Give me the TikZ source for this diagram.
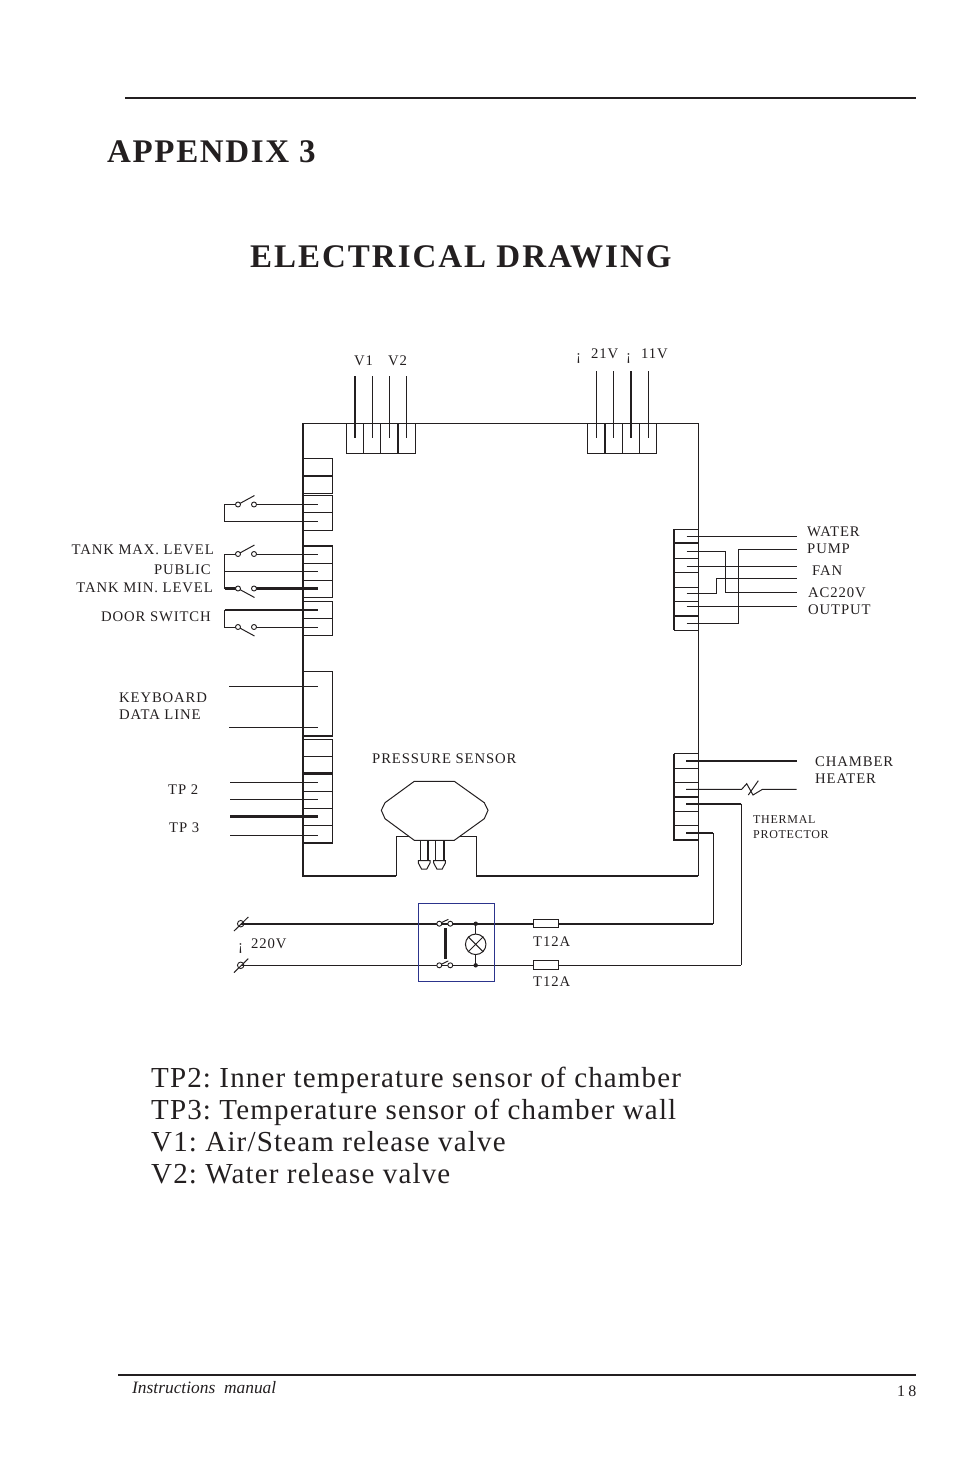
\documentclass[tikz,border=0pt]{standalone}
\usepackage{fontspec}
\setmainfont{Liberation Serif}
\newfontfamily\wideserif[LetterSpace=6]{Liberation Serif}
\newfontfamily\bodyserif[LetterSpace=4]{Liberation Serif}
\newfontfamily\titleserif[LetterSpace=5]{Liberation Serif}
\newfontfamily\pageserif[LetterSpace=20]{Liberation Serif}
\usetikzlibrary{positioning, calc}
\definecolor{boxblue}{RGB}{44,52,140}
\definecolor{inkgray}{RGB}{35,31,32}
\tikzset{
  thin wire/.style={line width=1pt, color=inkgray},
  thick wire/.style={line width=2.1pt, color=inkgray},
  lab/.style={inner sep=0pt, anchor=base west, font=\wideserif\fontsize{14.7}{14.7}\selectfont, color=inkgray},
  labr/.style={lab, anchor=base east},
  body/.style={inner sep=0pt, anchor=base west, font=\bodyserif\fontsize{29}{29}\selectfont, color=inkgray},
  heading/.style={inner sep=0pt, anchor=base west, color=inkgray, font=\titleserif\bfseries\fontsize{33}{33}\selectfont},
  small lab/.style={lab, font=\wideserif\fontsize{12}{12}\selectfont},
  terminal/.style={circle, draw=inkgray, fill=white, line width=.9pt, inner sep=0pt, minimum size=5pt},
}
\begin{document}
\frenchspacing
\begin{tikzpicture}[x=1pt, y=-1pt]
\useasboundingbox (0,0) rectangle (954,1475);
\draw[line width=2pt, color=inkgray] (125,98)--(916,98);
\draw[line width=2pt, color=inkgray] (118,1375)--(916,1375);
\node (title) [heading] at (107,162.5) {APPENDIX 3};
\node (subtitle) [heading, font=\wideserif\bfseries\fontsize{33}{33}\selectfont] at (250,267.5) {ELECTRICAL DRAWING};
\node (manual) [inner sep=0pt, anchor=base west, color=inkgray, font=\itshape\fontsize{17.4}{17.4}\selectfont] at (132,1393) {Instructions\ \ manual};
\node (pageno) [lab, font=\pageserif\fontsize{16}{16}\selectfont] at (897,1396) {18};
\node (tpa) [body] at (151,1087.3) {TP2: Inner temperature sensor of chamber};
\node (tpb) [body] at (151,1119.3) {TP3: Temperature sensor of chamber wall};
\node (va) [body] at (151,1151.3) {V1: Air/Steam release valve};
\node (vb) [body] at (151,1183.3) {V2: Water release valve};
% main board
\draw[thin wire] (303,423)--(698,423)--(698,876);
\draw[thick wire] (303,423)--(303,876)--(396,876);
\draw[thin wire] (396,876)--(396,836)--(476,836)--(476,876);
\draw[thick wire] (476,876)--(698,876);
% top connectors
\draw[thin wire] (346.5,423)--(346.5,453)--(415,453)--(415,423);
\foreach \x in {363.5,380.5} \draw[thin wire] (\x,423)--(\x,453);
\draw[thick wire] (398,423)--(398,453);
\draw[thick wire] (355,376)--(355,438);
\foreach \x in {372,389.5,406.5} \draw[thin wire] (\x,376)--(\x,438);
\draw[thin wire] (587.5,423)--(587.5,453)--(656.5,453)--(656.5,423);
\foreach \x in {622.5,639.5} \draw[thin wire] (\x,423)--(\x,453);
\draw[thick wire] (605,423)--(605,453);
\foreach \x in {596,613,648} \draw[thin wire] (\x,371)--(\x,438);
\draw[thick wire] (631,371)--(631,438);
\node (vone) [lab] at (354,365.5) {V1};
\node (vtwo) [lab] at (388,365.5) {V2};
\node (nega) [lab] at (576,360.5) {¡};
\node (vpa) [lab] at (591,358.5) {21V};
\node (negb) [lab] at (626,360.5) {¡};
\node (vpb) [lab] at (641,358.5) {11V};
% left connectors
\draw[thin wire] (303,458)--(332.5,458)--(332.5,493.5)--(303,493.5);
\draw[thick wire] (303,476)--(332.5,476);
\draw[thin wire] (303,495)--(332.5,495)--(332.5,530)--(303,530) (303,512.5)--(332.5,512.5);
\draw[thin wire] (332.5,546)--(332.5,597)--(303,597) (303,563.5)--(332.5,563.5) (303,580.5)--(332.5,580.5);
\draw[thick wire] (303,546)--(332.5,546);
\draw[thin wire] (303,601.5)--(332.5,601.5)--(332.5,635.5)--(303,635.5) (303,618)--(332.5,618);
\draw[thin wire] (303,671.5)--(332.5,671.5)--(332.5,736);
\draw[thick wire] (303,736)--(332.5,736);
\draw[thin wire] (303,739)--(332.5,739)--(332.5,843) (303,756)--(332.5,756);
\draw[thick wire] (303,773.5)--(332.5,773.5) (303,843)--(332.5,843);
\foreach \y in {791,808,825} \draw[thin wire] (303,\y)--(332.5,\y);
% switches
\draw[thin wire] (254,504.5)--(318,504.5) (238,504.5)--(224.5,504.5)--(224.5,521)--(318,521);
\draw[thin wire] (254,554)--(318,554) (238,554)--(224.5,554)--(224.5,588.5)--(238,588.5) (224.5,571)--(318,571);
\draw[thick wire] (254,588.5)--(318,588.5) (224.5,588.5)--(238,588.5);
\draw[thick wire] (224.5,610)--(318,610);
\draw[thin wire] (224.5,610)--(224.5,627)--(238,627) (254,627)--(318,627);
\foreach \y/\d in {504.5/-9,554/-9,588.5/9,627/9} {
  \draw[thin wire] (238,\y)--(254.5,\y+\d);
  \node [terminal] at (238,\y) {};
  \node [terminal] at (254,\y) {};
}
\node (tankmax) [labr] at (214,554) {TANK MAX. LEVEL};
\node (public) [labr] at (211,574) {PUBLIC};
\node (tankmin) [labr] at (213,592) {TANK MIN. LEVEL};
\node (door) [labr] at (211,621) {DOOR SWITCH};
% keyboard and sensors
\foreach \y in {686,727} \draw[thin wire] (229,\y)--(318,\y);
\foreach \y in {782.5,799.5,835} \draw[thin wire] (230,\y)--(318,\y);
\draw[thick wire] (230,816.5)--(318,816.5);
\node (keyb) [lab] at (119,702) {KEYBOARD};
\node (dataline) [lab] at (119,719) {DATA LINE};
\node (tptwo) [lab] at (168,794) {TP 2};
\node (tpthree) [lab] at (169,832) {TP 3};
% pressure sensor
\node (press) [lab] at (372,763) {PRESSURE SENSOR};
\draw[thin wire, fill=white] (414.3,781.3)--(454.3,781.3)--(484.3,802.7)--(488,810.3)--(484.3,818.7)--(454.3,840.3)--(414.3,840.3)--(385,818.7)--(381.3,810.3)--(385,802.7)--cycle;
\foreach \x in {420.3,435.7} {
  \draw[thin wire] (\x,840.3)--(\x,860.7);
  \draw[thick wire] (\x+8,840.3)--(\x+8,860.7);
  \draw[thin wire] (\x-2,860.7)--(\x+9.7,860.7)--(\x+9.7,863)--(\x+6.5,869)--(\x+1.2,869)--(\x-2,863)--cycle;
}
% right connectors
\draw[thick wire] (674,529.3)--(674,630);
\foreach \y in {529.3,558.3,572.3,587.3,601.7,630} \draw[thin wire] (674,\y)--(698,\y);
\foreach \y in {543.3,616} \draw[thick wire] (674,\y)--(698,\y);
\draw[thin wire] (686.7,536.7)--(796.7,536.7);
\draw[thin wire] (686.7,551)--(725,551)--(725,592.3)--(796.7,592.3);
\draw[thin wire] (686.7,566)--(796.7,566);
\draw[thin wire] (686.7,593.3)--(716,593.3)--(716,578.3)--(796.7,578.3);
\draw[thin wire] (686.7,606.3)--(796.7,606.3);
\draw[thin wire] (686.7,623)--(738,623)--(738,549.3)--(796.7,549.3);
\node (water) [lab] at (807,536.5) {WATER};
\node (pump) [lab] at (807,553.5) {PUMP};
\node (fan) [lab] at (812,575.5) {FAN};
\node (acv) [lab] at (808,597.5) {AC220V};
\node (output) [lab] at (808,614.5) {OUTPUT};
\draw[thick wire] (674,753.7)--(674,839.7)--(698,839.7);
\foreach \y in {753.7,768.3,782.3,811.3,825.7} \draw[thin wire] (674,\y)--(698,\y);
\draw[thick wire] (674,797)--(698,797);
\draw[thick wire] (686,760.7)--(796.7,760.7);
\draw[thin wire] (686,789.3)--(741.7,789.3)--(746.7,783.7)--(753,795)--(762.5,789.3)--(796.7,789.3);
\draw[thin wire] (758.3,780.7)--(748.3,795);
\draw[thick wire] (686,803.7)--(741.3,803.7);
\draw[thin wire] (741.3,803.7)--(741.3,965.3);
\draw[thick wire] (686,833)--(713.3,833);
\draw[thin wire] (713.3,833)--(713.3,923.7);
\node (chamber) [lab] at (815,766.5) {CHAMBER};
\node (heater) [lab] at (815,783.5) {HEATER};
\node (thermal) [small lab] at (753,823) {THERMAL};
\node (protector) [small lab] at (753,838) {PROTECTOR};
% mains
\draw[thick wire] (240.7,923.7)--(713.3,923.7);
\draw[thin wire] (240.7,965.3)--(741.3,965.3);
\foreach \y in {923.7,965.3} {
  \node [terminal, fill=none, minimum size=6.5pt] at (240.7,\y) {};
  \draw[thin wire] (234,\y+7.3)--(248.3,\y-6.7);
}
\node (negc) [lab] at (238,950.5) {¡};
\node (mains) [lab] at (251,948.5) {220V};
\draw[line width=1pt, color=boxblue] (418.7,903.7) rectangle (494.3,981.3);
\draw[line width=3pt, color=inkgray] (445,928)--(445,958.7);
\foreach \y in {923.7,965.3} {
  \draw[thin wire] (439.3,\y)--(448.3,\y-4.4);
  \node [terminal] at (439.3,\y) {};
  \node [terminal] at (450.3,\y) {};
  \fill[color=inkgray] (475.7,\y) circle (2.2);
}
\draw[thin wire] (475.7,923.7)--(475.7,965.3);
\node (lamp) [circle, draw=inkgray, fill=white, line width=1pt, inner sep=0pt, minimum size=20.5pt] at (475.7,944.3) {};
\draw[thin wire] (lamp.45)--(lamp.225) (lamp.135)--(lamp.315);
\node (fusea) [draw=inkgray, fill=white, line width=1pt, inner sep=0pt, minimum width=25pt, minimum height=8.5pt, anchor=west] at (533.3,923.7) {};
\node (fuseb) [draw=inkgray, fill=white, line width=1pt, inner sep=0pt, minimum width=25pt, minimum height=8.5pt, anchor=west] at (533.3,965) {};
\node (ta) [lab] at (533,946) {T12A};
\node (tb) [lab] at (533,986) {T12A};
\end{tikzpicture}
\end{document}
